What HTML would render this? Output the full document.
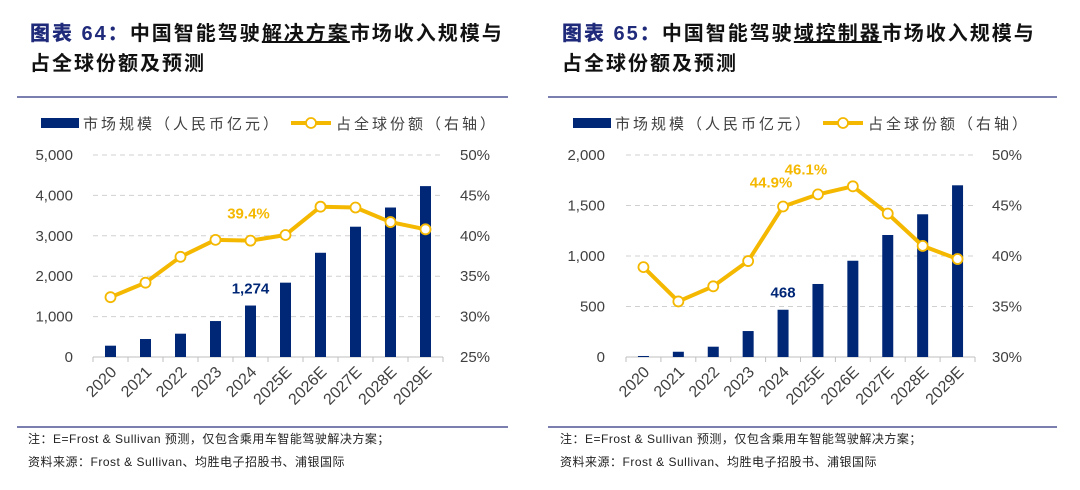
<!DOCTYPE html>
<html><head><meta charset="utf-8">
<style>
body{margin:0;background:#fff;width:1080px;height:490px;overflow:hidden;font-family:"Liberation Sans","Noto Sans CJK SC",sans-serif;}
.t{position:absolute;font-size:20px;font-weight:bold;color:#111;line-height:30px;letter-spacing:2px;font-family:"Liberation Sans","Noto Sans CJK SC",sans-serif;}
.t b{color:#1f2a7a}
.t u{text-decoration:underline}
.hr{position:absolute;height:2px;background:#7b7fb0}
.n{position:absolute;font-size:12px;color:#222;line-height:23px;letter-spacing:0.5px}
svg{position:absolute;left:0;top:0}
</style></head><body>
<div class="t" style="left:30px;top:19px"><b>图表 64：</b>中国智能驾驶<u>解决方案</u>市场收入规模与<br>占全球份额及预测</div>
<div class="t" style="left:562px;top:19px"><b>图表 65：</b>中国智能驾驶<u>域控制器</u>市场收入规模与<br>占全球份额及预测</div>
<div class="hr" style="left:17px;top:96px;width:491px"></div>
<div class="hr" style="left:548px;top:96px;width:509px"></div>
<div class="hr" style="left:17px;top:426px;width:491px"></div>
<div class="hr" style="left:548px;top:426px;width:509px"></div>
<div class="n" style="left:28px;top:428px">注：E=Frost &amp; Sullivan 预测，仅包含乘用车智能驾驶解决方案；<br>资料来源：Frost &amp; Sullivan、均胜电子招股书、浦银国际</div>
<div class="n" style="left:560px;top:428px">注：E=Frost &amp; Sullivan 预测，仅包含乘用车智能驾驶解决方案；<br>资料来源：Frost &amp; Sullivan、均胜电子招股书、浦银国际</div>
<svg id="s" width="1080" height="490"></svg>
<script>
const categories=["2020","2021","2022","2023","2024","2025E","2026E","2027E","2028E","2029E"];
const leftBars=[280,445,577,890,1274,1840,2580,3225,3700,4230];
const leftShare=[32.4,34.2,37.4,39.5,39.4,40.1,43.6,43.5,41.7,40.8];
const leftYTicks=["0","1,000","2,000","3,000","4,000","5,000"];
const leftRTicks=["25%","30%","35%","40%","45%","50%"];
const rightBars=[10,52,102,257,468,723,953,1208,1413,1700];
const rightShare=[38.9,35.5,37.0,39.5,44.9,46.1,46.9,44.2,41.0,39.7];
const rightYTicks=["0","500","1,000","1,500","2,000"];
const rightRTicks=["30%","35%","40%","45%","50%"];
const NS="http://www.w3.org/2000/svg";
const svg=document.getElementById('s');
function mk(tag,attrs,txt){const e=document.createElementNS(NS,tag);for(const k in attrs)e.setAttribute(k,attrs[k]);if(txt!==undefined)e.textContent=txt;svg.appendChild(e);return e;}
function chart(o){
  const x0=o.x0,x1=o.x1,yT=155,yB=357;
  const bw=(x1-x0)/categories.length;
  const ys=v=>yB-(v-o.ymin)/(o.ymax-o.ymin)*(yB-yT);
  const yr=v=>yB-(v-o.rmin)/(o.rmax-o.rmin)*(yB-yT);
  const n=o.yticks.length;
  for(let i=0;i<n;i++){
    const y=yB-i*(yB-yT)/(n-1);
    if(i>0){const g=mk('line',{x1:x0,x2:x1,y1:y,y2:y,stroke:'#d0d0d0','stroke-dasharray':'5,4'});}
    const t=mk('text',{x:o.lx,y:y+5,'text-anchor':'end','font-size':15,fill:'#404040'},o.yticks[i]);
    
    const r=mk('text',{x:o.rx,y:y+5,'font-size':15,fill:'#404040'},o.rticks[i]);
    
  }
  const ax=mk('line',{x1:x0,x2:x1,y1:yB,y2:yB,stroke:'#bfbfbf'});
  
  for(let i=0;i<=categories.length;i++){const tk=mk('line',{x1:x0+i*bw,x2:x0+i*bw,y1:yB,y2:yB+5,stroke:'#bfbfbf'});}
  categories.forEach((c,i)=>{
    const cx=x0+(i+0.5)*bw;
    const b=mk('rect',{x:cx-5.5,y:ys(o.bars[i]),width:11,height:yB-ys(o.bars[i]),fill:'#002776'});
    
    const l=mk('text',{x:cx+7,y:yB+16,'text-anchor':'end','font-size':16,fill:'#404040',transform:`rotate(-45 ${cx+7} ${yB+16})`},c);
    
  });
  const pts=o.share.map((v,i)=>[x0+(i+0.5)*bw,yr(v)]);
  const pl=mk('polyline',{points:pts.map(p=>p.join(',')).join(' '),fill:'none',stroke:'#f5b800','stroke-width':4,'stroke-linejoin':'round'});
  
  pts.forEach((p,i)=>{const c=mk('circle',{cx:p[0],cy:p[1],r:5,fill:'#fff',stroke:'#f5b800','stroke-width':1.8});});
  o.barLabels.forEach(i=>{const cx=x0+(i+0.5)*bw;const t=mk('text',{x:cx,y:ys(o.bars[i])-12,'text-anchor':'middle','font-size':15,'font-weight':'bold',fill:'#002776'},o.bars[i].toLocaleString('en-US'));});
  o.shareLabels.forEach(([i,dy])=>{const cx=x0+(i+0.5)*bw+o.sdx;const t=mk('text',{x:cx,y:yr(o.share[i])+dy,'text-anchor':'middle','font-size':15,'font-weight':'bold',fill:'#f5b800'},o.share[i].toFixed(1)+'%');});
  const lg=mk('rect',{x:o.lgx,y:118,width:38,height:10,fill:'#002776'});
  const lt=mk('text',{x:o.lgx+42,y:129,'font-size':15,fill:'#404040','letter-spacing':'3'},'市场规模（人民币亿元）');
  const ll=mk('line',{x1:o.lgx+250,x2:o.lgx+290,y1:123,y2:123,stroke:'#f5b800','stroke-width':4});
  const lc=mk('circle',{cx:o.lgx+270,cy:123,r:5,fill:'#fff',stroke:'#f5b800','stroke-width':1.8});
  const lt2=mk('text',{x:o.lgx+295,y:129,'font-size':15,fill:'#404040','letter-spacing':'3'},'占全球份额（右轴）');
}
chart({x0:93,x1:443,ymin:0,ymax:5000,rmin:25,rmax:50,bars:leftBars,share:leftShare,yticks:leftYTicks,rticks:leftRTicks,lx:73,rx:460,lgx:41,barLabels:[4],shareLabels:[[4,-22]],sdx:-2});
chart({x0:626,x1:975,ymin:0,ymax:2000,rmin:30,rmax:50,bars:rightBars,share:rightShare,yticks:rightYTicks,rticks:rightRTicks,lx:605,rx:992,lgx:573,barLabels:[4],shareLabels:[[4,-19],[5,-20]],sdx:-12});
</script>
</body></html>
